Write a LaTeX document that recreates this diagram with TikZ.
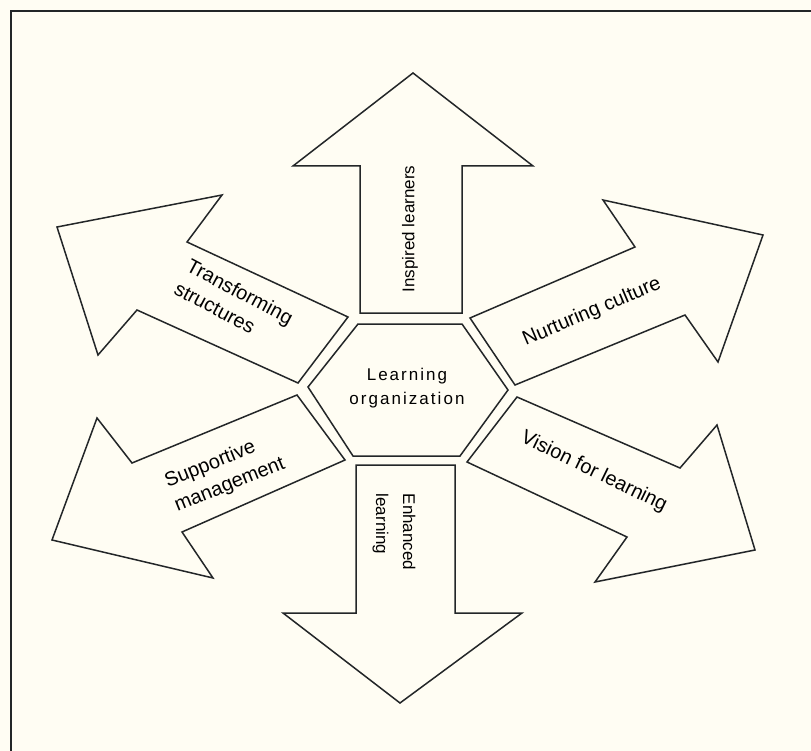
\documentclass[tikz,border=0pt]{standalone}
\usepackage{fontspec}
\setmainfont{Liberation Sans}
\newfontfamily\widefont[LetterSpace=12]{Liberation Sans}
\definecolor{paper}{RGB}{255,253,243}
\definecolor{ink}{RGB}{35,38,40}

\begin{document}
\begin{tikzpicture}[x=1pt,y=-1pt,line join=miter,
  bigarrow/.style={draw=ink,line width=1.5pt,fill=paper},
  vlabel/.style={font=\fontsize{17}{27}\selectfont,align=left,inner sep=0pt},
  dlabel/.style={font=\fontsize{20}{26}\selectfont,align=left,inner sep=0pt}]
\useasboundingbox[fill=paper] (0,0) rectangle (811,751);
\draw[ink,line width=1.8pt] (11,760) -- (11,11) -- (820,11);
% centre
\draw[bigarrow] (358,324) -- (462,324) -- (508,390) -- (460,456) -- (353,456) -- (308,387) -- cycle;
\node[align=center,inner sep=0pt,font=\widefont\fontsize{17}{24}\selectfont] (hub) at (407,388) {Learning\\organization};
% arrows
\draw[bigarrow] (360,313) -- (360,166) -- (293,166) -- (413,73) -- (533,166) -- (462,166) -- (462,313) -- cycle;
\draw[bigarrow] (356,465) -- (356,613) -- (283,613) -- (400,703) -- (522,613) -- (455,613) -- (455,465) -- cycle;
\draw[bigarrow] (348,317) -- (187,242) -- (222,195) -- (57,227) -- (98,355) -- (137,310) -- (298,383) -- cycle;
\draw[bigarrow] (297,395) -- (132,463) -- (97,418) -- (52,540) -- (213,578) -- (182,532) -- (345,460) -- cycle;
\draw[bigarrow] (470,318) -- (635,247) -- (603,200) -- (763,235) -- (718,362) -- (685,315) -- (515,385) -- cycle;
\draw[bigarrow] (517,397) -- (680,468) -- (717,425) -- (755,550) -- (595,582) -- (627,537) -- (467,462) -- cycle;
% labels
\node[vlabel,rotate=90] (inspired) at (410,229) {Inspired learners};
\node[vlabel,rotate=-90] (enhanced) at (394,532) {Enhanced\\learning};
\node[dlabel,rotate=-28] (transforming) at (234,303) {Transforming\\structures};
\node[dlabel,rotate=22] (supportive) at (225,473) {Supportive\\management};
\node[dlabel,rotate=23] (nurturing) at (592,312) {Nurturing culture};
\node[dlabel,rotate=-26] (vision) at (594,472) {Vision for learning};
\end{tikzpicture}
\end{document}
